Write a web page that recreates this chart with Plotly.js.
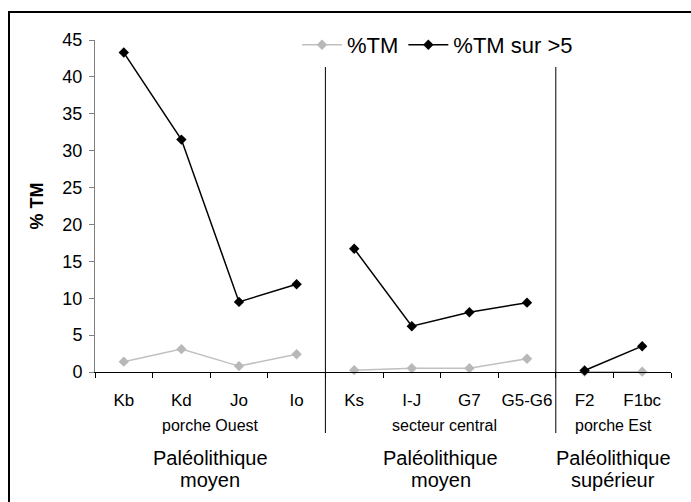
<!DOCTYPE html>
<html>
<head>
<meta charset="utf-8">
<script src="https://cdn.plot.ly/plotly-3.0.1.min.js"></script>
<style>html,body{margin:0;padding:0;background:#fff;}#chart{width:691px;height:502px;}</style>
</head>
<body>
<div id="chart"></div>
<script>
const categories = ["Kb", "Kd", "Jo", "Io", "Ks", "I-J", "G7", "G5-G6", "F2", "F1bc"];
const pctTM = [1.4, 3.1, 0.8, 2.4, 0.25, 0.5, 0.5, 1.8, 0.05, 0.05];
const pctTMsur5 = [43.3, 31.5, 9.5, 11.9, 16.7, 6.2, 8.1, 9.4, 0.2, 3.5];
const groupLabels = ["porche Ouest", "secteur central", "porche Est"];
const periodLine1 = ["Paléolithique", "Paléolithique", "Paléolithique"];
const periodLine2 = ["moyen", "moyen", "supérieur"];
const groupStart = [0, 4, 8];
const groupEnd = [3, 7, 9];

const FONT = "Liberation Sans, Arial, sans-serif";
const n = categories.length;

const series = [
  {name: "%TM", values: pctTM, line: "#c0c0c0", marker: "#b8b8b8"},
  {name: "%TM sur >5", values: pctTMsur5, line: "#000000", marker: "#000000"}
];

const traces = [];
series.forEach(function (s) {
  for (let g = 0; g < groupStart.length; g++) {
    traces.push({
      x: categories.slice(groupStart[g], groupEnd[g] + 1),
      y: s.values.slice(groupStart[g], groupEnd[g] + 1),
      name: s.name, legendgroup: s.name, showlegend: g === 0,
      type: "scatter", mode: "lines+markers",
      line: {color: s.line, width: 1.5},
      marker: {symbol: "diamond", size: 8, color: s.marker},
      cliponaxis: false
    });
  }
});

const H = 332; // plot height in px
function py(pix) { return (372 - pix) / H; }
function px(pix) { return (pix - 95) / 576; }

// outer frame: only the top and left edges are inside the picture
const shapes = [
  {type: "line", xref: "paper", yref: "paper", x0: px(8), x1: px(691), y0: py(12), y1: py(12),
   line: {color: "#000", width: 2}},
  {type: "line", xref: "paper", yref: "paper", x0: px(9), x1: px(9), y0: py(11), y1: py(502),
   line: {color: "#000", width: 2}}
];
for (let g = 1; g < groupStart.length; g++) {
  const xf = groupStart[g] / n;
  shapes.push({type: "line", xref: "paper", yref: "paper", x0: xf, x1: xf, y0: py(433), y1: py(67),
    line: {color: "#000", width: 1}});
}

const annotations = [];
for (let g = 0; g < groupLabels.length; g++) {
  const xc = (groupStart[g] + groupEnd[g]) / 2;
  annotations.push({xref: "x", yref: "paper", x: xc + (g === 1 ? 0.06 : 0), y: py(425), text: groupLabels[g],
    showarrow: false, font: {family: FONT, size: 16, color: "#000"}, xanchor: "center", yanchor: "middle"});
  annotations.push({xref: "x", yref: "paper", x: xc, y: py(458), text: periodLine1[g],
    showarrow: false, font: {family: FONT, size: 20, color: "#000"}, xanchor: "center", yanchor: "middle"});
  annotations.push({xref: "x", yref: "paper", x: xc, y: py(480), text: periodLine2[g],
    showarrow: false, font: {family: FONT, size: 20, color: "#000"}, xanchor: "center", yanchor: "middle"});
}

const layout = {
  width: 691, height: 502,
  margin: {l: 95, r: 20, t: 40, b: 130, pad: 0},
  paper_bgcolor: "#fff", plot_bgcolor: "#fff",
  font: {family: FONT, color: "#000"},
  showlegend: true,
  legend: {orientation: "h", x: px(297), xanchor: "left", y: py(45), yanchor: "middle",
    font: {family: FONT, size: 22, color: "#000"}, bgcolor: "rgba(0,0,0,0)", borderwidth: 0,
    traceorder: "normal", itemwidth: 40},
  xaxis: {
    type: "category", categoryorder: "array", categoryarray: categories,
    range: [-0.5, n - 0.5], tickson: "boundaries", ticks: "outside", ticklen: 5, tickangle: 0,
    ticklabelstandoff: 13,
    tickcolor: "#000", showline: true, linecolor: "#000", linewidth: 1,
    showgrid: false, zeroline: false, tickfont: {family: FONT, size: 17, color: "#000"},
    fixedrange: true
  },
  yaxis: {
    range: [0, 45], dtick: 5, tick0: 0, ticks: "outside", ticklen: 5, tickcolor: "#808080",
    showline: true, linecolor: "#808080", linewidth: 1, showgrid: false, zeroline: false,
    ticklabelstandoff: 3,
    tickfont: {family: FONT, size: 18, color: "#000"},
    title: {text: "<b>% TM</b>", font: {family: FONT, size: 18, color: "#000"}, standoff: 14},
    fixedrange: true
  },
  shapes: shapes,
  annotations: annotations
};

Plotly.newPlot("chart", traces, layout, {displayModeBar: false, staticPlot: true});
</script>
</body>
</html>
